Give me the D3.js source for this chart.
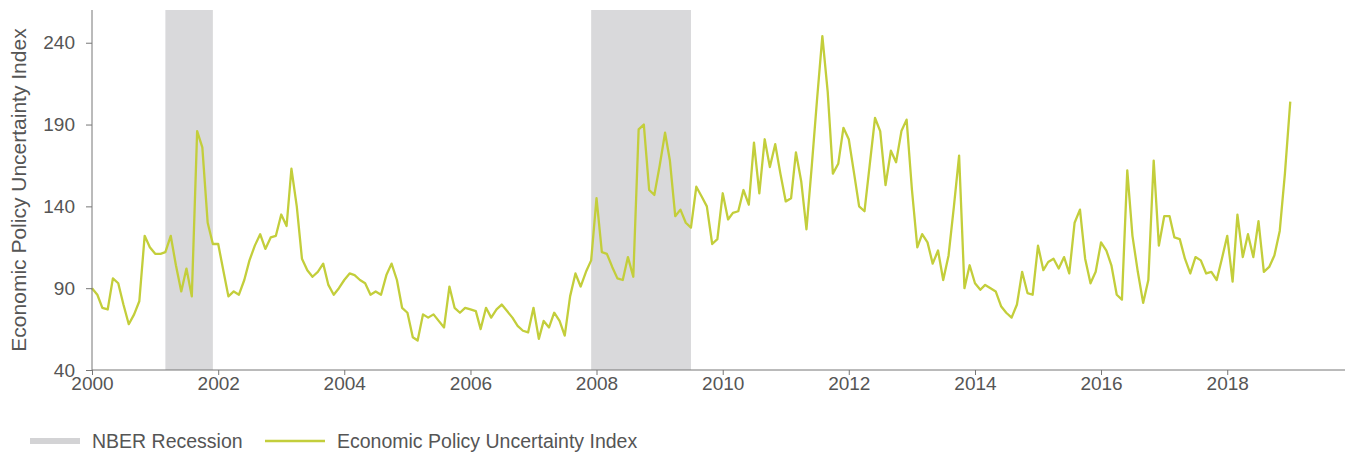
<!DOCTYPE html>
<html>
<head>
<meta charset="utf-8">
<script src="https://cdn.jsdelivr.net/npm/d3@7"></script>
<style>
  html, body { margin: 0; padding: 0; background: #fff; }
  svg { display: block; }
  text { font-family: "Liberation Sans", Arial, sans-serif; fill: #555; }
</style>
</head>
<body>
<svg id="chart" width="1357" height="454"></svg>
<script>
// ---- Data ----
const startYear = 2000;
const startMonth = 0; // January
// Economic Policy Uncertainty Index, monthly, Jan 2000 – Jan 2019
const epu = [
  90, 86, 78, 77, 96, 93, 80, 68, 74, 82, 122, 115,          // 2000
  111, 111, 112, 122, 104, 88, 102, 85, 186, 176, 130, 117,  // 2001
  117, 100, 85, 88, 86, 95, 107, 116, 123, 114, 121, 122,    // 2002
  135, 128, 163, 140, 108, 101, 97, 100, 105, 92, 86, 90,    // 2003
  95, 99, 98, 95, 93, 86, 88, 86, 98, 105, 95, 78,           // 2004
  75, 60, 58, 74, 72, 74, 70, 66, 91, 78, 75, 78,            // 2005
  77, 76, 65, 78, 72, 77, 80, 76, 72, 67, 64, 63,            // 2006
  78, 59, 70, 66, 75, 70, 61, 85, 99, 91, 100, 107,          // 2007
  145, 112, 111, 103, 96, 95, 109, 97, 187, 190, 150, 147,   // 2008
  165, 185, 168, 134, 138, 130, 127, 152, 146, 140, 117, 120,// 2009
  148, 132, 136, 137, 150, 141, 179, 148, 181, 164, 178, 160,// 2010
  143, 145, 173, 155, 126, 165, 205, 244, 210, 160, 166, 188,// 2011
  181, 160, 140, 137, 165, 194, 186, 153, 174, 167, 186, 193,// 2012
  150, 115, 123, 118, 105, 113, 95, 110, 140, 171, 90, 104,  // 2013
  93, 89, 92, 90, 88, 79, 75, 72, 80, 100, 87, 86,           // 2014
  116, 101, 106, 108, 102, 109, 99, 130, 138, 108, 93, 100,  // 2015
  118, 113, 104, 86, 83, 162, 122, 100, 81, 95, 168, 116,    // 2016
  134, 134, 121, 120, 108, 99, 109, 107, 99, 100, 95, 108,   // 2017
  122, 94, 135, 109, 123, 109, 131, 100, 103, 110, 125, 160, // 2018
  204                                                        // 2019
];
// NBER recessions (start month, first month after end)
const recessionStart = ["2001-03", "2007-12"];
const recessionEnd   = ["2001-12", "2009-07"];
const yTicks = [40, 90, 140, 190, 240];
const xTickYears = [2000, 2002, 2004, 2006, 2008, 2010, 2012, 2014, 2016, 2018];
const seriesName = "Economic Policy Uncertainty Index";
const recessionName = "NBER Recession";
const yTitle = "Economic Policy Uncertainty Index";

(function () {
  // ---- Layout ----
  const svg = d3.select("#chart");
  const pL = 92, pR = 1345, pT = 10, pB = 370;
  const parseYM = d3.timeParse("%Y-%m");

  const x = d3.scaleTime()
    .domain([new Date(2000, 0, 1), new Date(2019, 10, 14)])
    .range([pL, pR]);
  const y = d3.scaleLinear().domain([40, 260]).range([pB, pT]);

  const points = epu.map((v, i) => ({ date: new Date(startYear, startMonth + i, 1), value: v }));

  // Recession bands
  svg.append("g").selectAll("rect")
    .data(recessionStart.map((s, i) => ({ s: parseYM(s), e: parseYM(recessionEnd[i]) })))
    .join("rect")
    .attr("x", d => x(d.s))
    .attr("width", d => x(d.e) - x(d.s))
    .attr("y", y(260))
    .attr("height", y(40) - y(260))
    .attr("fill", "#d9d9db");

  // Line
  const line = d3.line().x(d => x(d.date)).y(d => y(d.value));
  svg.append("path")
    .datum(points)
    .attr("d", line)
    .attr("fill", "none")
    .attr("stroke", "#c3ce3b")
    .attr("stroke-width", 2.3)
    .attr("stroke-linejoin", "round");

  // Y axis
  const yAxis = svg.append("g")
    .attr("transform", `translate(${pL},0)`)
    .call(d3.axisLeft(y).tickValues(yTicks).tickSize(6).tickPadding(11));
  yAxis.select(".domain").attr("stroke", "#777").attr("d", `M0,${pT}V${pB}`);
  yAxis.selectAll(".tick line").attr("stroke", "#777");
  yAxis.selectAll(".tick text").style("font-size", "19px").attr("fill", "#555");

  // X axis
  const xAxis = svg.append("g")
    .attr("transform", `translate(0,${pB})`)
    .call(d3.axisBottom(x)
      .tickValues(xTickYears.map(yr => new Date(yr, 0, 1)))
      .tickFormat(d3.timeFormat("%Y"))
      .tickSize(5).tickPadding(2));
  xAxis.select(".domain").attr("stroke", "#777").attr("d", `M${pL},0H${pR}`);
  xAxis.selectAll(".tick line").attr("stroke", "#777");
  xAxis.selectAll(".tick text").style("font-size", "19px").attr("fill", "#555");

  // Y title
  svg.append("text")
    .attr("transform", `translate(26,${(pT + pB) / 2}) rotate(-90)`)
    .attr("text-anchor", "middle")
    .style("font-size", "21px")
    .text(yTitle);

  // Legend
  const lg = svg.append("g").attr("transform", "translate(0,441)");
  lg.append("rect").attr("x", 30).attr("y", -3).attr("width", 50).attr("height", 6).attr("fill", "#d3d3d5");
  lg.append("text").attr("x", 92).attr("y", 0).attr("dy", "0.35em").style("font-size", "19.5px").text(recessionName);
  lg.append("line").attr("x1", 265).attr("x2", 325).attr("y1", 0).attr("y2", 0)
    .attr("stroke", "#c3ce3b").attr("stroke-width", 2.3);
  lg.append("text").attr("x", 337).attr("y", 0).attr("dy", "0.35em").style("font-size", "19.5px").text(seriesName);
})();
</script>
</body>
</html>
